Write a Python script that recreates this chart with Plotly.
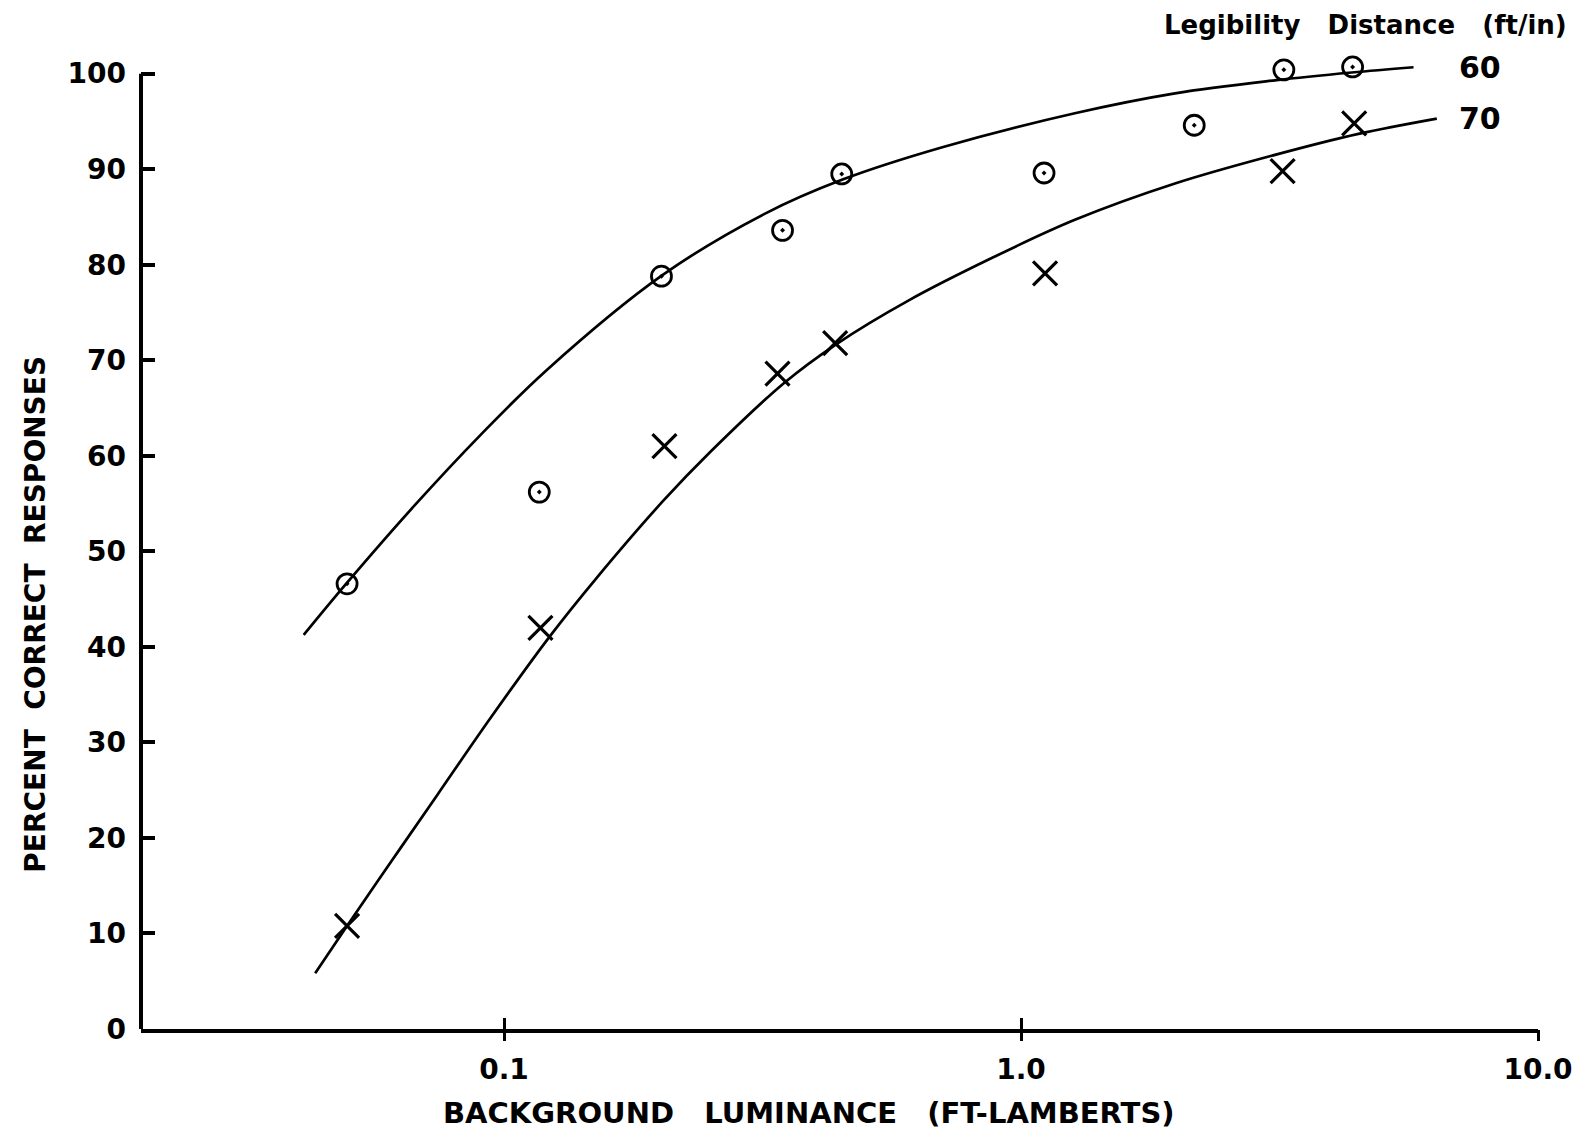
import numpy as np
import plotly.graph_objects as go

# Observed percent correct, legibility distance 60 ft/in (circles)
lum_60 = [0.0497, 0.117, 0.2016, 0.3457, 0.450, 1.108, 2.163, 3.224, 4.379]
pct_60 = [46.6, 56.2, 78.8, 83.6, 89.5, 89.6, 94.6, 100.4, 100.7]

# Observed percent correct, legibility distance 70 ft/in (crosses)
lum_70 = [0.0497, 0.1176, 0.2043, 0.338, 0.437, 1.113, 3.206, 4.41]
pct_70 = [10.8, 42.0, 61.0, 68.6, 71.8, 79.1, 89.8, 94.8]

# Hand-fitted curves through each set
fit_60_lum = [0.04097, 0.04957, 0.0670, 0.0899, 0.1207, 0.2018, 0.3184,
              0.4529, 0.7043, 1.271, 1.985, 3.099, 4.364, 5.744]
fit_60_pct = [41.25, 46.64, 54.75, 62.14, 68.94, 78.86, 85.3,
              88.94, 92.3, 95.86, 97.94, 99.3, 100.12, 100.67]

fit_70_lum = [0.04312, 0.04957, 0.06045, 0.07428, 0.09399, 0.1224, 0.1504,
              0.2033, 0.2516, 0.3477, 0.4396, 0.6078, 0.8777, 1.271, 1.985,
              3.099, 4.494, 6.372]
fit_70_pct = [5.83, 10.7, 17.5, 24.5, 32.5, 41.05, 47.1,
              55.3, 60.5, 67.6, 71.7, 76.3, 80.7, 84.7, 88.5,
              91.5, 93.7, 95.3]

x_ticks = [0.1, 1.0, 10.0]
x_tick_text = ["0.1", "1.0", "10.0"]
y_ticks = list(range(0, 101, 10))
series_labels = ["60", "70"]

INK = "black"
FONT = dict(family="DejaVu Sans", size=28, color=INK, weight="bold")
NB = "\u00a0"

fig = go.Figure()

for lx, py in ((fit_60_lum, fit_60_pct), (fit_70_lum, fit_70_pct)):
    fig.add_trace(go.Scatter(
        x=lx, y=py, mode="lines",
        line=dict(color=INK, width=2.7, shape="spline", smoothing=1.0),
        showlegend=False, hoverinfo="skip"))

fig.add_trace(go.Scatter(
    x=lum_60, y=pct_60, mode="markers", cliponaxis=False,
    marker=dict(symbol="circle-open-dot", size=20, color=INK,
                line=dict(color=INK, width=2.8)),
    showlegend=False))
fig.add_trace(go.Scatter(
    x=lum_70, y=pct_70, mode="markers", cliponaxis=False,
    marker=dict(symbol="x-thin-open", size=24, color=INK,
                line=dict(color=INK, width=3.2)),
    showlegend=False))

x_range = [np.log10(0.01985), 1.0]

fig.update_layout(
    width=1585, height=1133,
    margin=dict(l=140.5, r=41.3, t=44.8, b=104, pad=0),
    paper_bgcolor="white", plot_bgcolor="white",
    font=FONT,
    xaxis=dict(
        type="log", range=x_range,
        showgrid=False, zeroline=False,
        showline=True, linecolor=INK, linewidth=4,
        ticks="inside", ticklen=11, tickwidth=3, tickcolor=INK,
        tickvals=x_ticks, ticktext=x_tick_text,
        ticklabelstandoff=12, tickfont=FONT,
    ),
    # second copy of the x axis carrying the lower half of each crossing tick
    xaxis2=dict(
        type="log", range=x_range, overlaying="x", anchor="y", side="bottom",
        showgrid=False, zeroline=False, showline=False,
        ticks="outside", ticklen=11, tickwidth=3, tickcolor=INK,
        tickvals=x_ticks, showticklabels=False,
    ),
    yaxis=dict(
        range=[0, 103],
        showgrid=False, zeroline=False, showline=False,
        ticks="inside", ticklen=14, tickwidth=3.5, tickcolor=INK,
        tickvals=y_ticks, ticklabelstandoff=14, tickfont=FONT,
    ),
)

# invisible trace so the second x axis is drawn
fig.add_trace(go.Scatter(x=[x_ticks[0]], y=[0], xaxis="x2", mode="markers",
                         marker=dict(opacity=0), showlegend=False, hoverinfo="skip"))

# vertical axis line stops at 100
fig.add_shape(type="line", xref="paper", yref="y", x0=0, x1=0, y0=0, y1=100,
              line=dict(color=INK, width=4))

# axis titles
fig.add_annotation(
    text=f"BACKGROUND{NB*3}LUMINANCE{NB*3}(FT-LAMBERTS)",
    xref="paper", yref="paper", x=(811 - 140.5) / (1543.7 - 140.5), y=-0.085,
    xanchor="center", yanchor="middle", showarrow=False,
    font=dict(family="DejaVu Sans", size=29, color=INK, weight="bold"))
fig.add_annotation(
    text=f"PERCENT{NB*2}CORRECT{NB*2}RESPONSES",
    xref="paper", yref="paper", x=(35 - 140.5) / (1543.7 - 140.5),
    y=(1029 - 613.6) / (1029 - 44.8),
    xanchor="center", yanchor="middle", textangle=-90, showarrow=False, font=FONT)

# series labels at the right end of each curve
for lab, lx, py in ((series_labels[0], fit_60_lum, fit_60_pct),
                    (series_labels[1], fit_70_lum, fit_70_pct)):
    fig.add_annotation(
        text=lab, x=np.log10(lx[-1]), y=py[-1], xref="x", yref="y",
        xanchor="left", yanchor="middle", showarrow=False,
        xshift=20 if lab == "70" else 43,
        font=dict(family="DejaVu Sans", size=30, color=INK, weight="bold"))

fig.add_annotation(
    text=f"Legibility{NB*3}Distance{NB*3}(ft/in)",
    xref="paper", yref="paper", x=(1370 - 140.5) / (1543.7 - 140.5),
    y=(1029 - 25) / (1029 - 44.8),
    xanchor="center", yanchor="middle", showarrow=False,
    font=dict(family="DejaVu Sans", size=26, color=INK, weight="bold"))

fig.write_html("out.html")
